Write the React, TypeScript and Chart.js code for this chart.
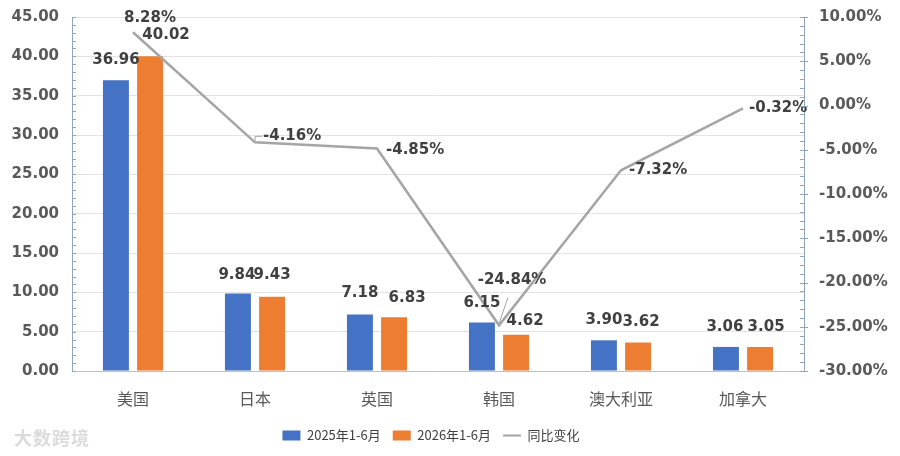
import React, { useEffect, useRef } from "react";
import { Chart, registerables } from "chart.js";

Chart.register(...registerables);

const categories = ["美国", "日本", "英国", "韩国", "澳大利亚", "加拿大"];
const values2025 = [36.96, 9.84, 7.18, 6.15, 3.9, 3.06];
const values2026 = [40.02, 9.43, 6.83, 4.62, 3.62, 3.05];
const yoyChange = [8.28, -4.16, -4.85, -24.84, -7.32, -0.32];
const seriesNames = ["2025年1-6月", "2026年1-6月", "同比变化"];
const leftAxis = { min: 0, max: 45, step: 5, minor: 1 };
const rightAxis = { min: -30, max: 10, step: 5, minor: 1 };

// label placement in pixels (styling only)
const shift2025 = [0, -1, 0, 0, 0, -1];
const shift2026 = [16, 0, 13, 9, 3, 6];
const rise2025 = [20, 18, 21, 20, 20, 20];
const rise2026 = [21, 22, 19, 14, 20, 20];
const lineLabelDx = [17, 8, 9, 13, 8, 6];
const lineLabelDy = [-14, -6, 2, -45, 0, 0];
const lineLabelAlign = ["center", "left", "left", "center", "left", "left"];

const BLUE = "#4472C4";
const ORANGE = "#ED7D31";
const GRAY = "#A5A5A5";
const AXIS = "#8FA6BA";
const TEXT = "#404040";
const TICK = "#595959";
const FONT = '"DejaVu Sans", "Noto Sans CJK SC", sans-serif';
const CJK = '"Noto Sans CJK SC", sans-serif';

const labelPlugin = {
  id: "valueLabels",
  afterDatasetsDraw(chart: any) {
    const ctx = chart.ctx;
    ctx.save();
    ctx.font = `bold 15px ${FONT}`;
    ctx.fillStyle = TEXT;
    ctx.textBaseline = "middle";
    ctx.textAlign = "center";
    const m0 = chart.getDatasetMeta(0);
    const m1 = chart.getDatasetMeta(1);
    m0.data.forEach((el: any, i: number) => {
      ctx.fillText(values2025[i].toFixed(2), el.x + shift2025[i], el.y - rise2025[i]);
    });
    m1.data.forEach((el: any, i: number) => {
      ctx.fillText(values2026[i].toFixed(2), el.x + shift2026[i], el.y - rise2026[i]);
    });
    const m2 = chart.getDatasetMeta(2);
    m2.data.forEach((el: any, i: number) => {
      ctx.textAlign = lineLabelAlign[i];
      ctx.fillText(yoyChange[i].toFixed(2) + "%", el.x + lineLabelDx[i], el.y + lineLabelDy[i]);
    });
    // leader lines
    ctx.strokeStyle = GRAY;
    ctx.lineWidth = 1;
    const p1 = m2.data[1];
    ctx.beginPath();
    ctx.moveTo(p1.x, p1.y - 1);
    ctx.lineTo(p1.x, p1.y - 6);
    ctx.lineTo(p1.x + 7, p1.y - 6);
    ctx.stroke();
    const p3 = m2.data[3];
    ctx.beginPath();
    ctx.moveTo(p3.x, p3.y - 2);
    ctx.lineTo(p3.x + 9, p3.y - 28);
    ctx.stroke();
    ctx.restore();
  },
};

const minorTickPlugin = {
  id: "minorTicks",
  afterLayout(chart: any) {
    if (chart.legend) {
      chart.legend.left -= 19;
      chart.legend.right -= 19;
    }
  },
  afterDraw(chart: any) {
    const ctx = chart.ctx;
    const y = chart.scales.y;
    const y1 = chart.scales.y1;
    const area = chart.chartArea;
    ctx.save();
    ctx.strokeStyle = AXIS;
    ctx.lineWidth = 1;
    ctx.beginPath();
    for (let v = leftAxis.min; v <= leftAxis.max; v += leftAxis.minor) {
      const py = Math.round(y.getPixelForValue(v)) + 0.5;
      ctx.moveTo(area.left, py);
      ctx.lineTo(area.left + 4, py);
    }
    for (let v = rightAxis.min; v <= rightAxis.max; v += rightAxis.minor) {
      const py = Math.round(y1.getPixelForValue(v)) + 0.5;
      const major = Math.abs(v % rightAxis.step) < 1e-9;
      ctx.moveTo(area.right - 4, py);
      ctx.lineTo(area.right + (major ? 4 : 0), py);
    }
    ctx.stroke();
    ctx.restore();
  },
};

export default function App() {
  const ref = useRef<HTMLCanvasElement | null>(null);
  useEffect(() => {
    if (!ref.current) return;
    const chart = new Chart(ref.current, {
      type: "bar",
      data: {
        labels: categories,
        datasets: [
          {
            type: "bar",
            label: seriesNames[0],
            data: values2025,
            backgroundColor: BLUE,
            yAxisID: "y",
            order: 1,
            categoryPercentage: 0.56,
            barPercentage: 0.76,
          },
          {
            type: "bar",
            label: seriesNames[1],
            data: values2026,
            backgroundColor: ORANGE,
            yAxisID: "y",
            order: 1,
            categoryPercentage: 0.56,
            barPercentage: 0.76,
          },
          {
            type: "line",
            label: seriesNames[2],
            data: yoyChange,
            borderColor: GRAY,
            backgroundColor: GRAY,
            borderWidth: 2.5,
            pointRadius: 0,
            tension: 0,
            yAxisID: "y1",
            order: 0,
          },
        ] as any,
      },
      options: {
        responsive: false,
        animation: false,
        layout: { padding: { top: 17, left: 0, right: 0, bottom: 4 } },
        plugins: {
          tooltip: { enabled: false },
          legend: {
            position: "bottom",
            labels: {
              font: { family: CJK, size: 13 },
              color: TEXT,
              usePointStyle: true,
              pointStyleWidth: 18,
              boxHeight: 10,
              padding: 12,
              sort: (a: any, b: any) => a.datasetIndex - b.datasetIndex,
              generateLabels: (chart: any) => {
                const items = Chart.defaults.plugins.legend.labels.generateLabels(chart);
                return items.map((it: any) => {
                  if (it.datasetIndex === 2) {
                    return { ...it, pointStyle: "line", strokeStyle: GRAY, lineWidth: 2, fillStyle: GRAY };
                  }
                  return { ...it, pointStyle: "rect", lineWidth: 0 };
                });
              },
            },
          },
        },
        scales: {
          x: {
            grid: { display: false, drawTicks: false },
            border: { display: true, color: "#BFBFBF" },
            ticks: { font: { family: CJK, size: 16 }, color: TICK, padding: 18 },
            afterFit: (s: any) => {
              s.height = 46;
              s.paddingLeft = 0;
              s.paddingRight = 0;
            },
          },
          y: {
            position: "left",
            min: leftAxis.min,
            max: leftAxis.max,
            ticks: {
              stepSize: leftAxis.step,
              font: { family: FONT, size: 15, weight: "bold" },
              color: TICK,
              padding: 13,
              callback: (v: any) => Number(v).toFixed(2),
            },
            grid: { color: "#E3E3E3", drawTicks: false },
            border: { display: true, color: AXIS },
            afterFit: (s: any) => {
              s.width = 72;
              s.paddingTop = 0;
              s.paddingBottom = 0;
            },
          },
          y1: {
            position: "right",
            min: rightAxis.min,
            max: rightAxis.max,
            ticks: {
              stepSize: rightAxis.step,
              font: { family: FONT, size: 15, weight: "bold" },
              color: TICK,
              padding: 15,
              callback: (v: any) => Number(v).toFixed(2) + "%",
            },
            grid: { drawOnChartArea: false, drawTicks: false },
            border: { display: true, color: AXIS },
            afterFit: (s: any) => {
              s.width = 96;
              s.paddingTop = 0;
              s.paddingBottom = 0;
            },
          },
        },
      } as any,
      plugins: [labelPlugin, minorTickPlugin],
    });
    return () => chart.destroy();
  }, []);

  return (
    <div style={{ position: "absolute", left: 0, top: 0, width: 900, height: 456, background: "#fff" }}>
      <canvas ref={ref} width={900} height={456} style={{ width: 900, height: 456 }} />
      <div
        style={{
          position: "absolute",
          left: 14,
          top: 424,
          fontFamily: CJK,
          fontSize: 18,
          fontWeight: 700,
          color: "rgba(190,190,190,0.55)",
          letterSpacing: 1,
        }}
      >
        大数跨境
      </div>
    </div>
  );
}
